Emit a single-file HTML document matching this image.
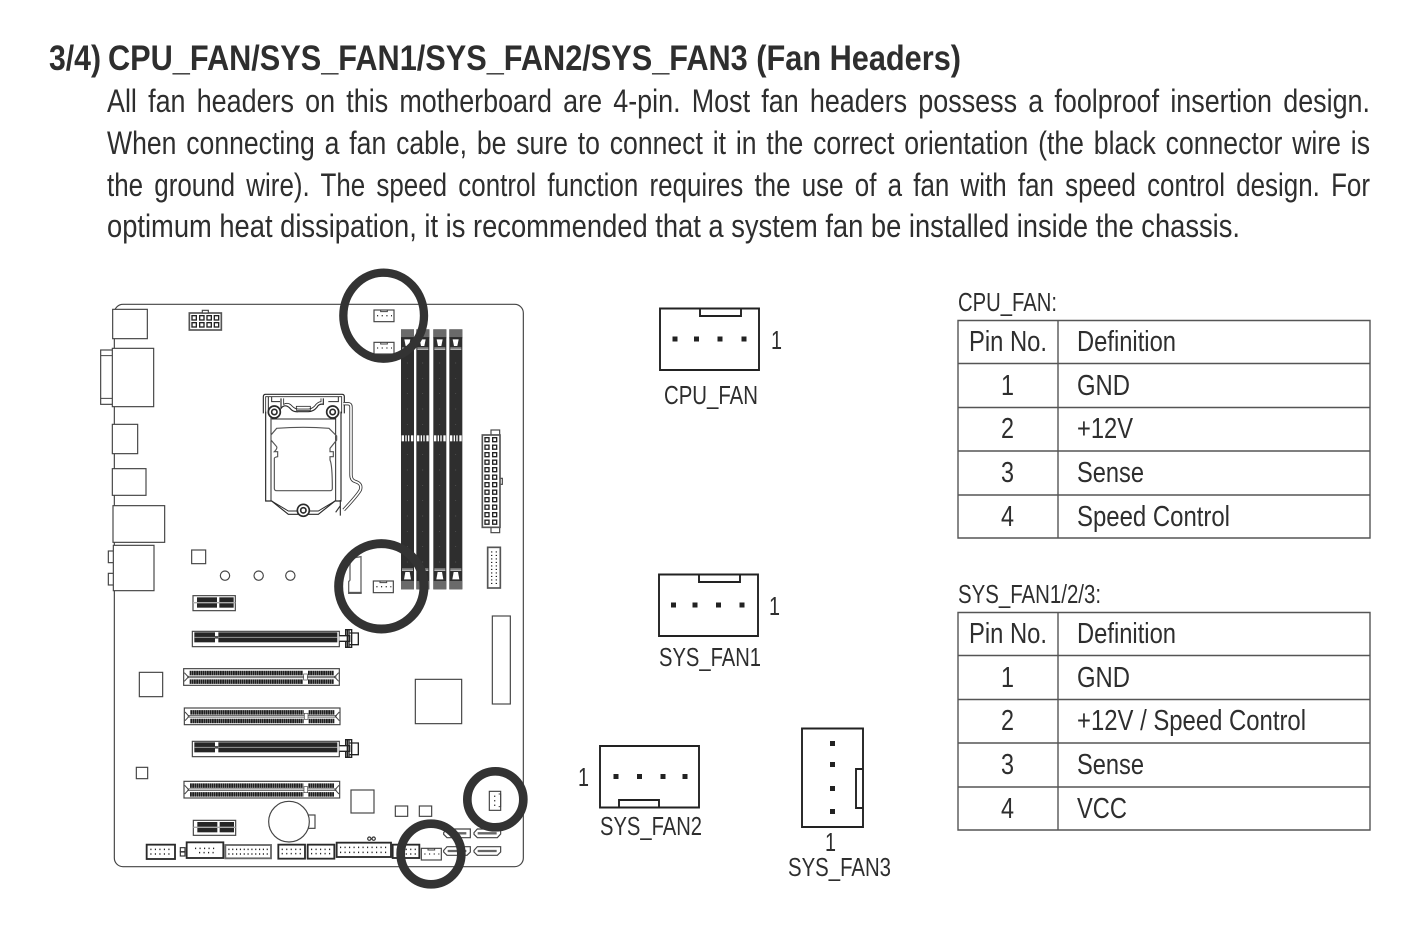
<!DOCTYPE html>
<html><head><meta charset="utf-8"><style>
html,body{margin:0;padding:0;background:#fff}
svg{display:block}
text{font-family:"Liberation Sans",sans-serif;fill:#2e2e2e}
.b{font-size:32.5px}
.t{font-size:28.5px}
.l{font-size:25.5px}
.tl{fill:none;stroke:#555;stroke-width:1.4}
.f{fill:none;stroke:#222;stroke-width:1.9}
.p{fill:#222}
.o{fill:#fff;stroke:#444;stroke-width:3.5}
.g{fill:none;stroke:#444;stroke-width:3}
.c{fill:none;stroke:#333}
</style></head><body>
<svg width="1422" height="925" viewBox="0 0 1422 925" xmlns="http://www.w3.org/2000/svg">
<rect width="1422" height="925" fill="#fff"/>
<text x="49" y="70" font-size="35.5" font-weight="700" textLength="52" lengthAdjust="spacingAndGlyphs">3/4)</text>
<text x="108" y="70" font-size="35.5" font-weight="700" textLength="853" lengthAdjust="spacingAndGlyphs">CPU_FAN/SYS_FAN1/SYS_FAN2/SYS_FAN3 (Fan Headers)</text>
<text class="b" x="107" y="112" textLength="1263" lengthAdjust="spacingAndGlyphs" style="word-spacing:4.5px">All fan headers on this motherboard are 4-pin. Most fan headers possess a foolproof insertion design.</text>
<text class="b" x="107" y="154" textLength="1263" lengthAdjust="spacingAndGlyphs" style="word-spacing:3px">When connecting a fan cable, be sure to connect it in the correct orientation (the black connector wire is</text>
<text class="b" x="107" y="196" textLength="1263" lengthAdjust="spacingAndGlyphs" style="word-spacing:5px">the ground wire). The speed control function requires the use of a fan with fan speed control design. For</text>
<text class="b" x="107" y="237" textLength="1133" lengthAdjust="spacingAndGlyphs">optimum heat dissipation, it is recommended that a system fan be installed inside the chassis.</text>

<!-- Tables -->
<text class="l" x="958" y="311" textLength="99" lengthAdjust="spacingAndGlyphs">CPU_FAN:</text>
<path class="tl" d="M958 320.500H1370V538H958ZM1058 320.500V538M958 363.500H1370M958 407.500H1370M958 451H1370M958 495H1370"/>
<text class="t" x="969" y="351" textLength="78" lengthAdjust="spacingAndGlyphs">Pin No.</text>
<text class="t" x="1077" y="351" textLength="99" lengthAdjust="spacingAndGlyphs">Definition</text>
<text class="t" x="1001" y="395" textLength="13" lengthAdjust="spacingAndGlyphs">1</text><text class="t" x="1077" y="395" textLength="53" lengthAdjust="spacingAndGlyphs">GND</text>
<text class="t" x="1001" y="438" textLength="13" lengthAdjust="spacingAndGlyphs">2</text><text class="t" x="1077" y="438" textLength="56" lengthAdjust="spacingAndGlyphs">+12V</text>
<text class="t" x="1001" y="482" textLength="13" lengthAdjust="spacingAndGlyphs">3</text><text class="t" x="1077" y="482" textLength="67" lengthAdjust="spacingAndGlyphs">Sense</text>
<text class="t" x="1001" y="526" textLength="13" lengthAdjust="spacingAndGlyphs">4</text><text class="t" x="1077" y="526" textLength="153" lengthAdjust="spacingAndGlyphs">Speed Control</text>

<text class="l" x="958" y="603" textLength="143" lengthAdjust="spacingAndGlyphs">SYS_FAN1/2/3:</text>
<path class="tl" d="M958 612.500H1370V830H958ZM1058 612.500V830M958 655.500H1370M958 699.500H1370M958 743H1370M958 787H1370"/>
<text class="t" x="969" y="643" textLength="78" lengthAdjust="spacingAndGlyphs">Pin No.</text>
<text class="t" x="1077" y="643" textLength="99" lengthAdjust="spacingAndGlyphs">Definition</text>
<text class="t" x="1001" y="687" textLength="13" lengthAdjust="spacingAndGlyphs">1</text><text class="t" x="1077" y="687" textLength="53" lengthAdjust="spacingAndGlyphs">GND</text>
<text class="t" x="1001" y="730" textLength="13" lengthAdjust="spacingAndGlyphs">2</text><text class="t" x="1077" y="730" textLength="229" lengthAdjust="spacingAndGlyphs">+12V / Speed Control</text>
<text class="t" x="1001" y="774" textLength="13" lengthAdjust="spacingAndGlyphs">3</text><text class="t" x="1077" y="774" textLength="67" lengthAdjust="spacingAndGlyphs">Sense</text>
<text class="t" x="1001" y="818" textLength="13" lengthAdjust="spacingAndGlyphs">4</text><text class="t" x="1077" y="818" textLength="50" lengthAdjust="spacingAndGlyphs">VCC</text>

<!-- Fan connector diagrams -->
<path class="f" d="M660 308.500H759V370H660ZM700 308.500V316H741V308.500"/>
<path class="p" d="M672.500 336.500h5v5h-5zM694 336.500h5v5h-5zM717.500 336.500h5v5h-5zM741.500 336.500h5v5h-5z"/>
<text class="l" x="771" y="349" textLength="11" lengthAdjust="spacingAndGlyphs">1</text>
<text class="l" x="664" y="404" textLength="94" lengthAdjust="spacingAndGlyphs">CPU_FAN</text>

<path class="f" d="M659 574.500H758V636H659ZM699 574.500V582H740V574.500"/>
<path class="p" d="M671 602.500h5v5h-5zM692.500 602.500h5v5h-5zM716 602.500h5v5h-5zM739.500 602.500h5v5h-5z"/>
<text class="l" x="769" y="615" textLength="11" lengthAdjust="spacingAndGlyphs">1</text>
<text class="l" x="659" y="666" textLength="102" lengthAdjust="spacingAndGlyphs">SYS_FAN1</text>

<path class="f" d="M600 746H699V807.500H600ZM619 807.500V800H659V807.500"/>
<path class="p" d="M613.500 774h5v5h-5zM637 774h5v5h-5zM660.500 774h5v5h-5zM682.500 774h5v5h-5z"/>
<text class="l" x="578" y="786" textLength="11" lengthAdjust="spacingAndGlyphs">1</text>
<text class="l" x="600" y="835" textLength="102" lengthAdjust="spacingAndGlyphs">SYS_FAN2</text>

<path class="f" d="M802 728.500H863V827H802ZM863 769H856V808H863"/>
<path class="p" d="M830 741h5v5h-5zM830 762h5v5h-5zM830 786h5v5h-5zM830 809h5v5h-5z"/>
<text class="l" x="825" y="851" textLength="11" lengthAdjust="spacingAndGlyphs">1</text>
<text class="l" x="788" y="876" textLength="103" lengthAdjust="spacingAndGlyphs">SYS_FAN3</text>

<defs>
<g id="ram">
<rect x="0" y="0" width="39" height="780" fill="#2e2e2e"/>
<rect x="0" y="0" width="39" height="24" fill="#6a6a6a"/>
<rect x="0" y="24" width="39" height="3" fill="#222"/>
<path d="M10 30H28L24 50H14Z" fill="#fff"/>
<path d="M3 56H36M3 60H36" stroke="#ddd" stroke-width="2.500"/>
<path d="M19 100V300M19 375V700" stroke="#666" stroke-width="2.500" stroke-dasharray="2 44"/>
<rect x="2" y="318" width="7" height="18" fill="#fff"/><rect x="13" y="318" width="4" height="18" fill="#fff"/><rect x="21" y="318" width="4" height="18" fill="#fff"/><rect x="30" y="318" width="7" height="18" fill="#fff"/>
<path d="M3 723H36M3 719H36" stroke="#ddd" stroke-width="2.500"/>
<path d="M13 728H26L30 750H9Z" fill="#fff"/>
<rect x="0" y="755" width="39" height="25" fill="#6a6a6a"/>
</g>
<g id="fanH">
<rect class="o" x="0" y="0" width="60" height="35"/>
<path class="g" d="M20 0V5H40V0"/>
<path d="M9 17H54" stroke="#333" stroke-width="4" stroke-dasharray="3.500 10.500" fill="none"/>
</g>
<g id="pex16">
<rect class="o" x="0" y="0" width="441" height="46"/>
<rect x="6" y="3" width="429" height="30" fill="#262626"/>
<path d="M6 18H435" stroke="#999" stroke-width="3"/>
<rect x="68" y="2" width="10" height="33" fill="#fff"/>
<rect x="68" y="14" width="10" height="8" fill="#555"/>
<path d="M441 13H472V30H441M460 13V-5H478V48H460V30M472 5H498V40H472" fill="#fff" stroke="#222" stroke-width="4"/>
<path d="M465 -5V48M470 -5V48" stroke="#222" stroke-width="4"/>
</g>
<g id="pci">
<rect class="o" x="0" y="0" width="467" height="50"/>
<path d="M18 13H358M373 13H450M18 39H358M373 39H450" stroke="#1e1e1e" stroke-width="13.500" fill="none" stroke-dasharray="5.500 1"/>
<path d="M10 25H458" stroke="#444" stroke-width="7"/>
<path d="M10 25H458" stroke="#eee" stroke-width="2.500"/>
<path d="M2 12L14 25L2 38M465 12L453 25L465 38" class="g"/>
<rect x="360" y="16" width="11" height="18" fill="#fff" stroke="#444" stroke-width="2"/>
</g>
<g id="pex1">
<rect class="o" x="0" y="0" width="127" height="45"/>
<rect x="12" y="5" width="60" height="31" fill="#262626"/>
<rect x="79" y="5" width="43" height="31" fill="#262626"/>
<path d="M0 21H127" stroke="#aaa" stroke-width="4"/>
</g>
</defs>

<!-- board upper -->
<g transform="translate(95,265) scale(.33333)">
<rect x="58" y="118" width="1227" height="1687" rx="26" fill="#fff" stroke="#444" stroke-width="3.500"/>
<!-- IO -->
<rect class="o" x="53" y="133" width="104" height="88" stroke="#666"/>
<rect class="o" x="17" y="255" width="36" height="163"/>
<path class="g" d="M17 272H53M17 400H53"/>
<rect class="o" x="52" y="250" width="124" height="175"/>
<rect class="o" x="52" y="478" width="76" height="88"/>
<rect class="o" x="52" y="611" width="101" height="80"/>
<rect class="o" x="54" y="722" width="155" height="110"/>
<rect class="o" x="40" y="858" width="16" height="35"/>
<rect class="o" x="40" y="925" width="16" height="35"/>
<rect class="o" x="55" y="841" width="122" height="136"/>
<!-- 8 pin -->
<rect x="283" y="144" width="96" height="51" fill="#fff" stroke="#555" stroke-width="5"/>
<rect x="322" y="136" width="18" height="8" class="o"/>
<g fill="#fff" stroke="#222" stroke-width="4"><rect x="291" y="152" width="13" height="13"/><rect x="314" y="152" width="13" height="13"/><rect x="336" y="152" width="13" height="13"/><rect x="358" y="152" width="13" height="13"/><rect x="291" y="173" width="13" height="13"/><rect x="314" y="173" width="13" height="13"/><rect x="336" y="173" width="13" height="13"/><rect x="358" y="173" width="13" height="13"/></g>
<!-- fan headers -->
<use href="#fanH" x="837" y="135"/>
<use href="#fanH" x="837" y="232"/>
<!-- RAM -->
<use href="#ram" x="918" y="193"/>
<use href="#ram" x="964" y="193"/>
<use href="#ram" x="1015" y="193"/>
<use href="#ram" x="1063" y="193"/>
<!-- CPU socket -->
<g fill="none" stroke="#2a2a2a" stroke-width="3.500">
<path d="M505 445V395Q505 388 512 388H741Q748 388 748 395V445"/>
<path d="M512 445V395H740V445" stroke-width="2.500"/>
<path d="M512 440V708H530L580 748H670L720 708H738V440"/>
<path d="M528 450V708M722 450V708" stroke-width="3"/>
<path d="M530 708L580 738H670L720 708" stroke-width="3"/>
<path d="M530 462H722" stroke-width="3"/>
<path d="M545 490Q625 484 702 490L725 513V525L705 550V560H715V575H705V585Q712 600 712 670Q712 677 705 677H545Q538 677 538 670V580Q538 577 548 575V560H538Q548 550 545 545L528 525V510Z" stroke="#555"/>
<path d="M558 400V430Q570 415 585 430Q595 442 610 440H640Q655 440 665 428Q672 415 685 418V400"/>
<path d="M566 400V418Q580 410 592 424Q600 432 610 432H640Q650 432 658 424Q668 410 678 410V400" stroke-width="2.500"/>
<rect x="604" y="424" width="42" height="12" stroke-width="2.500"/>
<path d="M520 395V445M530 395V410H555M730 395V410H700" stroke-width="3"/>
</g>
<path d="M745 416H758Q768 416 768 426V630Q768 646 782 650Q802 656 796 675Q788 690 746 735" fill="none" stroke="#333" stroke-width="10"/>
<path d="M745 416H758Q768 416 768 426V630Q768 646 782 650Q802 656 796 675Q788 690 746 735" fill="none" stroke="#fff" stroke-width="5"/>
<path d="M736 705V752M722 742L736 722" fill="none" stroke="#333" stroke-width="3.500"/>
<g fill="#fff" stroke="#2a2a2a" stroke-width="5"><circle cx="538" cy="441" r="18"/><circle cx="713" cy="441" r="18"/><circle cx="625" cy="736" r="18"/></g>
<g fill="#fff" stroke="#2a2a2a" stroke-width="5"><circle cx="538" cy="441" r="8"/><circle cx="713" cy="441" r="8"/><circle cx="625" cy="736" r="8"/></g>
<!-- ATX -->
<rect x="1188" y="495" width="26" height="15" class="o"/>
<rect x="1188" y="787" width="26" height="16" class="o"/>
<rect x="1215" y="640" width="7" height="18" class="o"/>
<rect x="1162" y="510" width="53" height="277" fill="#fff" stroke="#555" stroke-width="5"/>
<path d="M1176 516V782M1199 516V782" fill="none" stroke="#222" stroke-width="16" stroke-dasharray="16 6.500"/>
<path d="M1176 520V782M1199 520V782" fill="none" stroke="#fff" stroke-width="8" stroke-dasharray="8 14.500"/>
<!-- small -->
<rect class="o" x="290" y="855" width="42" height="41"/>
<circle class="o" cx="390" cy="932" r="14"/>
<circle class="o" cx="491" cy="932" r="14"/>
<circle class="o" cx="586" cy="932" r="14"/>
</g>

<!-- board lower -->
<g transform="translate(95,540) scale(.33333)">
<rect x="1178" y="22" width="38" height="122" fill="#fff" stroke="#555" stroke-width="5"/>
<path d="M1190 34V138M1204 34V138" stroke="#222" stroke-width="4" stroke-dasharray="3.500 7"/>
<path d="M761 160V125L765 120V55L798 50V160Z" fill="#fff" stroke="#666" stroke-width="4"/>
<path d="M761 158H800" stroke="#555" stroke-width="5"/>
<use href="#fanH" x="835" y="123"/>
<use href="#pex1" x="294" y="167"/>
<use href="#pex16" x="292" y="274"/>
<use href="#pci" x="266" y="386"/>
<use href="#pci" x="268" y="504"/>
<use href="#pex16" x="292" y="604"/>
<use href="#pci" x="267" y="724"/>
<use href="#pex1" x="295" y="841"/>
<rect class="o" x="133" y="397" width="70" height="73"/>
<rect class="o" x="961" y="418" width="139" height="133"/>
<rect class="o" x="768" y="750" width="69" height="69"/>
<rect class="o" x="124" y="682" width="34" height="34"/>
<rect class="o" x="901" y="798" width="37" height="31"/>
<rect class="o" x="973" y="798" width="37" height="31"/>
<rect class="o" x="1192" y="228" width="54" height="264"/>
<rect class="o" x="635" y="825" width="25" height="40"/>
<circle class="o" cx="582" cy="845" r="61"/>
<rect class="o" x="1183" y="754" width="34" height="57"/>
<path d="M1199 767V806" stroke="#333" stroke-width="4" stroke-dasharray="3.500 10"/>
<path class="g" d="M1211 762H1217V800H1211"/>
<!-- bottom headers -->
<g fill="#fff" stroke="#2a2a2a" stroke-width="5.500">
<rect x="155" y="914" width="85" height="43"/>
<rect x="275" y="907" width="110" height="47"/>
<rect x="391" y="915" width="137" height="40" stroke="#666"/>
<rect x="550" y="914" width="80" height="42"/>
<rect x="638" y="914" width="80" height="42"/>
<rect x="725" y="908" width="163" height="43"/>
<rect x="893" y="914" width="80" height="40"/>
</g>
<g stroke="#222" stroke-width="4.500" fill="none" stroke-dasharray="3.500 10">
<path d="M166 928H232M166 942H232"/>
<path d="M300 925H365M312 938H365"/>
<path d="M400 928H522M400 942H522" stroke-dasharray="3.500 8"/>
<path d="M560 928H624M560 941H624"/>
<path d="M648 928H712M648 941H712"/>
<path d="M735 922H880M735 937H880"/>
<path d="M905 928H965M905 942H965"/>
</g>
<use href="#fanH" x="979" y="925"/>
<g fill="#fff" stroke="#333" stroke-width="3.500">
<rect x="256" y="923" width="14" height="12"/><rect x="256" y="936" width="14" height="12"/>
<circle cx="823" cy="896" r="5"/><circle cx="836" cy="896" r="5"/>
</g>
<!-- SATA -->
<g fill="#fff" stroke="#444" stroke-width="3.500">
<path d="M1046 878L1056 867H1126V893H1056L1046 883Z"/>
<path d="M1137 878L1147 867H1217V882L1207 893H1147L1137 883Z"/>
<path d="M1046 931L1056 920H1126V936L1116 946H1056L1046 936Z"/>
<path d="M1137 931L1147 920H1217V936L1207 946H1147L1137 936Z"/>
</g>
<path d="M1058 880H1114M1148 880H1205M1058 933H1114M1148 933H1205" stroke="#666" stroke-width="7"/>
</g>

<!-- highlight circles -->
<g transform="translate(95,540) scale(.33333)">
<ellipse class="c" cx="866" cy="-673" rx="121" ry="129" stroke-width="25"/>
<circle class="c" cx="859" cy="139" r="128" stroke-width="27"/>
<circle class="c" cx="1201" cy="778" r="84" stroke-width="26"/>
<circle class="c" cx="1008" cy="942" r="91" stroke-width="26"/>
</g>
</svg>
</body></html>
